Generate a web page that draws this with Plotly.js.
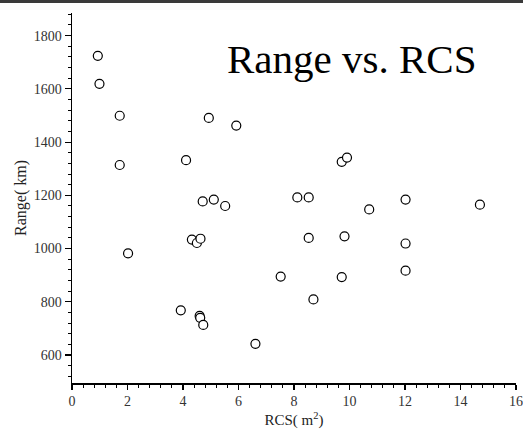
<!DOCTYPE html>
<html>
<head>
<meta charset="utf-8">
<script src="https://cdn.plot.ly/plotly-3.0.1.min.js"></script>
<style>html,body{margin:0;padding:0;background:#fff;}#chart{width:523px;height:438px;}</style>
</head>
<body>
<div id="chart"></div>
<script>
// RCS (m^2)
const rcs = [0.93, 0.99, 1.72, 1.72, 2.02, 3.92, 4.11, 4.32, 4.50, 4.63, 4.60, 4.62, 4.73, 4.71, 4.93, 5.11, 5.52, 5.92, 6.61, 7.52, 8.12, 8.53, 8.53, 8.70, 9.72, 9.91, 9.82, 9.72, 10.71, 12.02, 12.02, 12.02, 14.70];
// Range (km)
const rangeKm = [1724, 1619, 1499, 1314, 982, 768, 1332, 1034, 1021, 1037, 747, 740, 713, 1177, 1491, 1184, 1160, 1462, 642, 895, 1192, 1192, 1040, 809, 1326, 1342, 1046, 893, 1147, 1184, 1019, 917, 1165];

const chartTitle = "Range vs. RCS";
const xTitle = "RCS( m<sup>2</sup>)";
const yTitle = "Range( km)";

const serif = "Liberation Serif, Times New Roman, serif";

const trace = {
  x: rcs,
  y: rangeKm,
  type: "scatter",
  mode: "markers",
  marker: {symbol: "circle", size: 9, color: "#ffffff", line: {color: "#000000", width: 1.2}},
  hoverinfo: "x+y",
  showlegend: false
};

const layout = {
  width: 523,
  height: 438,
  margin: {l: 72, r: 7, t: 13, b: 55},
  paper_bgcolor: "#ffffff",
  plot_bgcolor: "#ffffff",
  font: {family: serif, color: "#333333"},
  title: {
    text: chartTitle,
    font: {family: serif, size: 41, color: "#000000"},
    xref: "paper", x: 0.63, xanchor: "center",
    yref: "container", y: 1 - 59/438, yanchor: "middle"
  },
  xaxis: {
    range: [0, 16],
    dtick: 2, tick0: 0,
    showgrid: false, zeroline: false,
    showline: true, linecolor: "#000000", linewidth: 1.5,
    ticks: "outside", ticklen: 5, tickwidth: 1.2, tickcolor: "#000000",
    minor: {dtick: 0.4, tick0: 0, ticks: "outside", ticklen: 3, tickwidth: 1, tickcolor: "#000000", showgrid: false},
    tickfont: {family: serif, size: 14, color: "#333333"},
    title: {text: xTitle, font: {family: serif, size: 15, color: "#222222"}, standoff: 6}
  },
  yaxis: {
    range: [495, 1885],
    dtick: 200, tick0: 0,
    showgrid: false, zeroline: false,
    showline: true, linecolor: "#000000", linewidth: 1.5,
    ticks: "outside", ticklen: 6, tickwidth: 1.2, tickcolor: "#000000",
    minor: {dtick: 40, tick0: 0, ticks: "outside", ticklen: 3, tickwidth: 1, tickcolor: "#000000", showgrid: false},
    tickfont: {family: serif, size: 14, color: "#333333"},
    title: {text: yTitle, font: {family: serif, size: 16, color: "#222222"}, standoff: 3}
  },
  shapes: [{
    type: "line", xref: "paper", yref: "paper",
    x0: -0.17, x1: 1.02, y0: 1 + 11.5/370, y1: 1 + 11.5/370,
    line: {color: "#3a3a3a", width: 3}
  }]
};

Plotly.newPlot("chart", [trace], layout, {displayModeBar: false, staticPlot: true});
</script>
</body>
</html>
